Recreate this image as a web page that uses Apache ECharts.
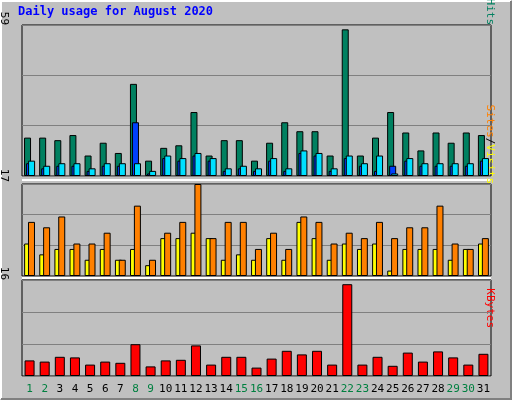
<!DOCTYPE html>
<html><head><meta charset="utf-8">
<script src="https://cdn.jsdelivr.net/npm/echarts@6/dist/echarts.min.js"></script>
<style>html,body{margin:0;padding:0;background:#c0c0c0}#c{width:512px;height:400px}</style>
</head><body><div id="c"></div>
<script>
const days = Array.from({length:31},(_,i)=>String(i+1));
const weekends = ['1','2','8','9','15','16','22','23','29','30'];
const hits  = [15,15,14,16,8,13,9,36,6,11,12,25,8,14,14,6,13,21,17.5,17.5,8,57.3,8,15,25,17,10,17,13,17,16];
const files = [5,3,4,4,2,4,4,21,1,7,6,8,6,2,3,2,6,2,9,8,2,7,4,2,4,6,4,4,4,4,6];
const pages = [6,4,5,5,3,5,5,5,2,8,7,9,7,3,4,3,7,3,10,9,3,8,5,8,1,7,5,5,5,5,7];
const visits= [6,4,5,5,3,5,3,5,2,7,7,8,7,3,4,3,7,3,10,7,3,6,5,6,1,5,5,5,3,5,6];
const sites = [10,9,11,6,6,8,3,13,3,8,10,17,7,10,10,5,8,5,11,10,6,8,7,10,7,9,9,13,6,5,7];
const kbytes= [2.6,2.4,3.2,3.1,1.9,2.4,2.2,5.3,1.6,2.6,2.7,5.1,1.9,3.2,3.2,1.4,2.9,4.2,3.6,4.2,1.9,15.3,1.9,3.2,1.7,3.9,2.4,4.1,3.1,1.9,3.7];
const maxTop=59, maxMid=17, maxBot=16;

const ch = echarts.init(document.getElementById('c'));
const mono = 'DejaVu Sans Mono';
const grids=[{top:25,height:151},{top:184,height:92},{top:280,height:96}];
const bs = {borderColor:'#000',borderWidth:1};
function yax(i,max){return {gridIndex:i,min:0,max:max,interval:max/3,axisLabel:{show:false},axisTick:{show:false},axisLine:{show:false},splitLine:{show:true,lineStyle:{color:'#808080',width:1}}};}
function xax(i,show){return {type:'category',gridIndex:i,data:days,axisTick:{show:false},axisLine:{show:false},
 axisLabel:{show:show,interval:0,margin:8,fontFamily:mono,fontSize:11,formatter:v=>weekends.includes(v)?'{w|'+v+'}':'{d|'+v+'}',
 rich:{w:{color:'#008040',fontFamily:mono,fontSize:11},d:{color:'#000',fontFamily:mono,fontSize:11}}}};}
ch.setOption({
 animation:false,backgroundColor:'#c0c0c0',
 grid:grids.map(g=>({left:22,right:21,top:g.top,height:g.height,show:true,backgroundColor:'#c0c0c0',borderColor:'#000',borderWidth:1})),
 xAxis:[xax(0,false),xax(1,false),xax(2,true)],
 yAxis:[yax(0,maxTop),yax(1,maxMid),yax(2,maxBot)],
 series:[
  {type:'bar',xAxisIndex:0,yAxisIndex:0,data:hits,barWidth:7,barGap:'-71%',itemStyle:{color:'#008060',...bs}},
  {type:'bar',xAxisIndex:0,yAxisIndex:0,data:files,barWidth:7,barGap:'-71%',itemStyle:{color:'#0040ff',...bs}},
  {type:'bar',xAxisIndex:0,yAxisIndex:0,data:pages,barWidth:7,barGap:'-71%',itemStyle:{color:'#00e0ff',...bs}},
  {type:'bar',xAxisIndex:1,yAxisIndex:1,data:visits,barWidth:7,barGap:'-45%',itemStyle:{color:'#ffff00',...bs}},
  {type:'bar',xAxisIndex:1,yAxisIndex:1,data:sites,barWidth:7,barGap:'-45%',itemStyle:{color:'#ff8000',...bs}},
  {type:'bar',xAxisIndex:2,yAxisIndex:2,data:kbytes,barWidth:10,itemStyle:{color:'#ff0000',...bs}}
 ],
 graphic:[
  {type:'polyline',shape:{points:[[1,399],[1,1],[511,1]]},style:{stroke:'#fff',lineWidth:2,fill:null}},
  {type:'polyline',shape:{points:[[1,399],[511,399],[511,1]]},style:{stroke:'#808080',lineWidth:2,fill:null}},
  {type:'line',shape:{x1:22,y1:180,x2:491,y2:180},style:{stroke:'#fff',lineWidth:2}},
  {type:'line',shape:{x1:22,y1:278,x2:491,y2:278},style:{stroke:'#fff',lineWidth:2}},
  {type:'text',left:18,top:6,style:{text:'Daily usage for August 2020',fill:'#0000ff',font:'bold 12px "DejaVu Sans Mono"'}},
  {type:'text',x:9,y:25,rotation:-Math.PI/2,style:{text:'59',fill:'#000',font:'11px "DejaVu Sans Mono"',align:'right',verticalAlign:'top'}},
  {type:'text',x:9,y:182,rotation:-Math.PI/2,style:{text:'17',fill:'#000',font:'11px "DejaVu Sans Mono"',align:'right',verticalAlign:'top'}},
  {type:'text',x:9,y:280,rotation:-Math.PI/2,style:{text:'16',fill:'#000',font:'11px "DejaVu Sans Mono"',align:'right',verticalAlign:'top'}},
  {type:'text',x:495,y:25,rotation:-Math.PI/2,style:{text:'{p|Pages}{s|/}{f|Files}{s|/}{h|Hits}',align:'right',verticalAlign:'top',
    rich:{p:{fill:'#00e0ff',font:'11px "DejaVu Sans Mono"'},s:{fill:'#000',font:'11px "DejaVu Sans Mono"'},f:{fill:'#0040ff',font:'11px "DejaVu Sans Mono"'},h:{fill:'#008060',font:'11px "DejaVu Sans Mono"'}}}},
  {type:'text',x:495,y:184,rotation:-Math.PI/2,style:{text:'{a|Sites}{s|/}{v|Visits}',align:'right',verticalAlign:'top',
    rich:{a:{fill:'#ff8000',font:'11px "DejaVu Sans Mono"'},s:{fill:'#000',font:'11px "DejaVu Sans Mono"'},v:{fill:'#ffff00',font:'11px "DejaVu Sans Mono"'}}}},
  {type:'text',x:495,y:328,rotation:-Math.PI/2,style:{text:'KBytes',fill:'#ff0000',font:'11px "DejaVu Sans Mono"',align:'right',verticalAlign:'top'}}
 ]
});
</script></body></html>
